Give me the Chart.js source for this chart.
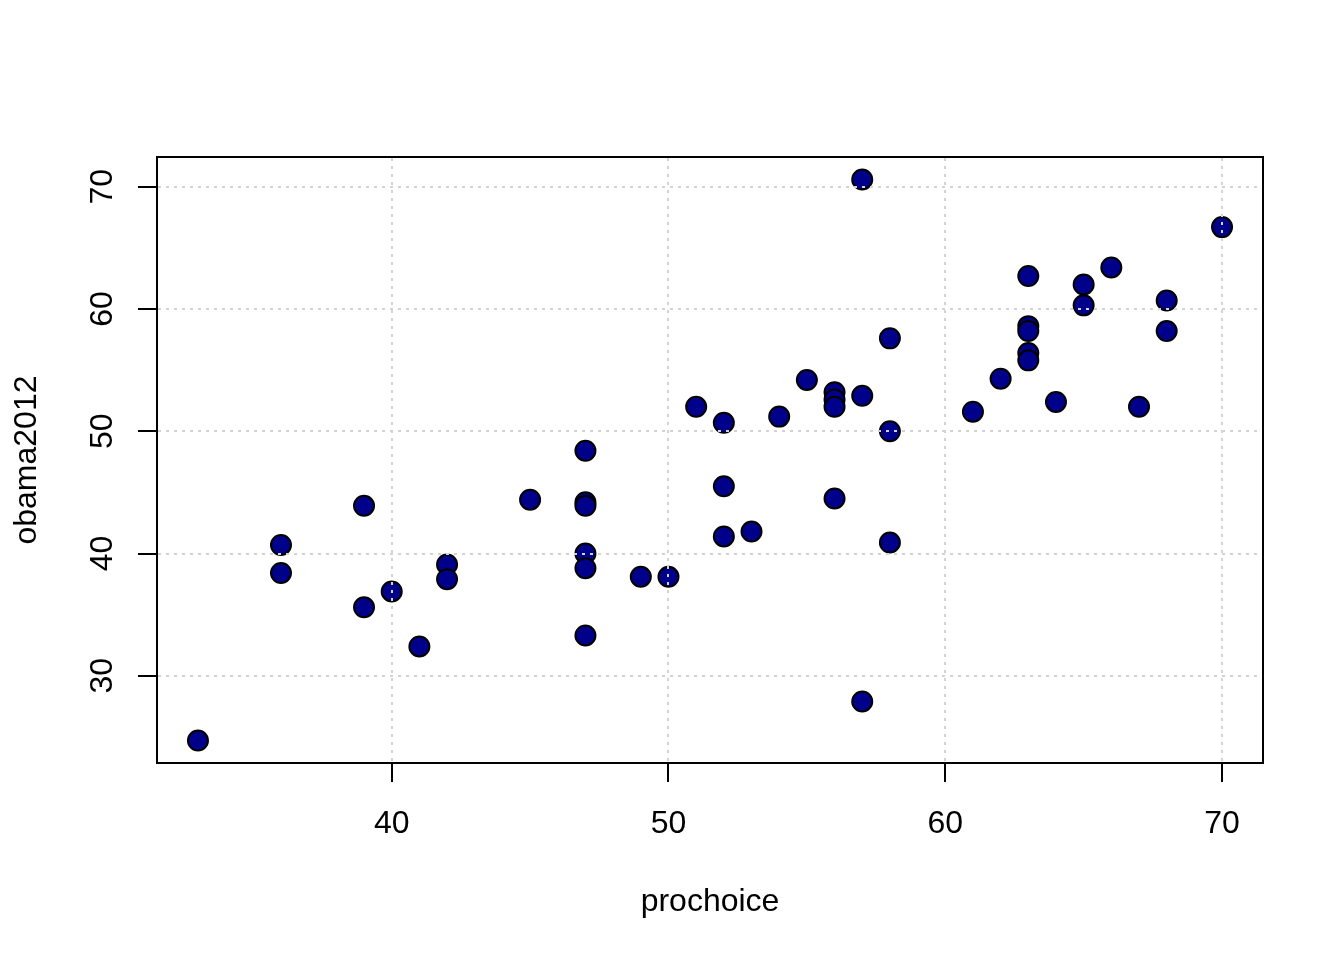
<!DOCTYPE html>
<html>
<head>
<meta charset="utf-8">
<script src="https://cdn.jsdelivr.net/npm/chart.js@4.4.1/dist/chart.umd.min.js"></script>
<style>
  html, body { margin: 0; padding: 0; background: #ffffff; }
</style>
</head>
<body>
<canvas id="scatter" width="1344" height="960"></canvas>
<script>
// state-level values
const prochoice = [33, 36, 36, 39, 39, 40, 41, 42, 42, 45,
                   47, 47, 47, 47, 47, 47, 49, 50, 51, 52,
                   52, 52, 53, 54, 55, 56, 56, 56, 56, 57,
                   57, 57, 58, 58, 58, 61, 62, 63, 63, 63,
                   63, 63, 64, 65, 65, 66, 67, 68, 68, 70];
const obama2012 = [24.7, 40.7, 38.4, 43.9, 35.6, 36.9, 32.4, 39.1, 37.9, 44.4,
                   48.4, 44.2, 43.9, 40.0, 38.8, 33.3, 38.1, 38.1, 52.0, 50.7,
                   45.5, 41.4, 41.8, 51.2, 54.2, 53.2, 52.6, 52.0, 44.5, 70.6,
                   52.9, 27.9, 57.6, 50.0, 40.9, 51.6, 54.3, 62.7, 58.6, 58.2,
                   56.4, 55.8, 52.4, 62.0, 60.3, 63.4, 52.0, 60.7, 58.2, 66.7];

const xTicks = [40, 50, 60, 70];
const yTicks = [30, 40, 50, 60, 70];
const xTitle = 'prochoice';
const yTitle = 'obama2012';

// R-style axis range: data range stretched 4% each side
function rRange(vals) {
  const lo = Math.min(...vals), hi = Math.max(...vals);
  const pad = (hi - lo) * 0.04;
  return [lo - pad, hi + pad];
}
const [xMin, xMax] = rRange(prochoice);
const [yMin, yMax] = rRange(obama2012);

const FONT = '32px "Liberation Sans", Arial, sans-serif';
const TICK_LEN = 19;

// base-graphics look: box, outward ticks, rotated y labels
const rAxes = {
  id: 'rAxes',
  beforeDatasetsDraw(chart) {
    const { ctx, chartArea: a, scales: { x, y } } = chart;
    ctx.save();
    ctx.strokeStyle = '#000000';
    ctx.lineWidth = 2;
    ctx.strokeRect(a.left, a.top, a.right - a.left, a.bottom - a.top);

    ctx.fillStyle = '#000000';
    ctx.font = FONT;

    // x axis
    ctx.beginPath();
    xTicks.forEach(v => {
      const px = Math.round(x.getPixelForValue(v));
      ctx.moveTo(px, a.bottom);
      ctx.lineTo(px, a.bottom + TICK_LEN);
    });
    ctx.stroke();
    ctx.textAlign = 'center';
    ctx.textBaseline = 'alphabetic';
    xTicks.forEach(v => {
      ctx.fillText(String(v), x.getPixelForValue(v), 833);
    });
    ctx.fillText(xTitle, (a.left + a.right) / 2, 911);

    // y axis
    ctx.beginPath();
    yTicks.forEach(v => {
      const py = Math.round(y.getPixelForValue(v));
      ctx.moveTo(a.left, py);
      ctx.lineTo(a.left - TICK_LEN, py);
    });
    ctx.stroke();
    yTicks.forEach(v => {
      ctx.save();
      ctx.translate(112, y.getPixelForValue(v));
      ctx.rotate(-Math.PI / 2);
      ctx.fillText(String(v), 0, 0);
      ctx.restore();
    });
    ctx.save();
    ctx.translate(36, (a.top + a.bottom) / 2);
    ctx.rotate(-Math.PI / 2);
    ctx.fillText(yTitle, 0, 0);
    ctx.restore();
    ctx.restore();
  },
  // grid() was added after the points, so it sits on top
  afterDatasetsDraw(chart) {
    const { ctx, chartArea: a, scales: { x, y } } = chart;
    ctx.save();
    ctx.strokeStyle = '#d3d3d3';
    ctx.lineWidth = 2;
    ctx.setLineDash([3, 5]);
    ctx.beginPath();
    xTicks.forEach(v => {
      const px = Math.round(x.getPixelForValue(v));
      ctx.moveTo(px, a.top + 1);
      ctx.lineTo(px, a.bottom - 1);
    });
    yTicks.forEach(v => {
      const py = Math.round(y.getPixelForValue(v));
      ctx.moveTo(a.left + 1, py);
      ctx.lineTo(a.right - 1, py);
    });
    ctx.stroke();
    ctx.restore();
  }
};

const points = prochoice.map((v, i) => ({ x: v, y: obama2012[i] }));

new Chart(document.getElementById('scatter').getContext('2d'), {
  type: 'scatter',
  data: {
    datasets: [{
      data:            points,
      backgroundColor: '#00008b',
      borderColor:     '#000000',
      borderWidth:     2,
      pointRadius:     10,
      pointHoverRadius: 10,
      clip:            false,
    }]
  },
  options: {
    responsive: false,
    animation:  false,
    events:     [],
    layout: {
      padding: { left: 157, top: 157, right: 81, bottom: 197 }
    },
    plugins: {
      legend:  { display: false },
      tooltip: { enabled: false },
    },
    scales: {
      x: { type: 'linear', min: xMin, max: xMax, display: false },
      y: { type: 'linear', min: yMin, max: yMax, display: false },
    }
  },
  plugins: [rAxes]
});
</script>
</body>
</html>
